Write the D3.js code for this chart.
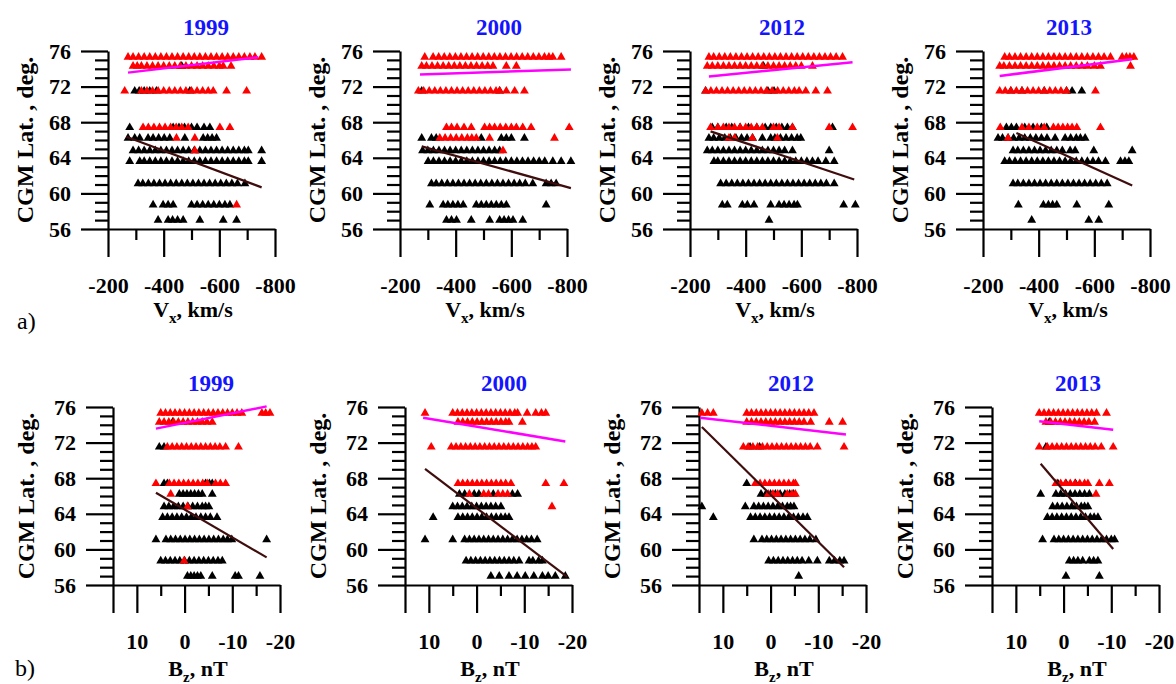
<!DOCTYPE html>
<html>
<head>
<meta charset="utf-8">
<script src="https://cdn.jsdelivr.net/npm/d3@7"></script>
<style>
  body { margin: 0; background: #fff; }
  svg text { font-family: 'Liberation Serif', 'Times New Roman', Times, serif; }
</style>
</head>
<body>
<svg id="chart"></svg>
<script>
// station latitudes (rows of triangles)
const lats = [75.3, 74.3, 71.5, 67.4, 66.2, 64.8, 63.6, 61.1, 58.7, 57.0];
const years = ['1999', '2000', '2012', '2013'];
const latTicks = [76, 72, 68, 64, 60, 56];
const vxTicks = [-200, -400, -600, -800];
const vxMinor = [-300, -500, -700];
const bzTicks = [15, 10, 0, -10, -20];
const bzMinor = [5, -5, -15];

// ---- Vx panels: one array per latitude row ----
const vxRed1999 = [
  [-272,-290,-310,-330,-350,-370,-390,-410,-430,-450,-470,-490,-510,-530,-550,-570,-590,-610,-630,-650,-670,-690,-710,-728,-752],
  [-290,-305,-320,-340,-360,-380,-400,-420,-440,-460,-480,-500,-520,-540,-560,-580,-600,-614,-642],
  [-260,-320,-340,-360,-380,-400,-420,-440,-460,-480,-500,-520,-540,-560,-578,-626,-698],
  [-326,-345,-365,-385,-405,-425,-445,-465,-488,-602,-638],
  [-446,-512], [-512], [], [], [-662], []
];
const vxBlack1999 = [
  [], [-465],
  [-296,-312,-330,-350,-374,-494],
  [-278,-434,-455,-475,-500,-520,-545,-566],
  [-272,-296,-314,-344,-362,-382,-402,-422,-476,-542,-558,-574,-590],
  [-290,-310,-330,-350,-370,-390,-410,-430,-450,-470,-490,-510,-530,-550,-570,-590,-610,-630,-650,-670,-690,-704,-752],
  [-278,-314,-330,-350,-370,-390,-410,-430,-450,-470,-490,-510,-530,-550,-570,-590,-610,-630,-650,-670,-690,-704,-752],
  [-308,-325,-345,-365,-385,-405,-425,-445,-465,-485,-505,-525,-545,-565,-585,-605,-625,-645,-665,-692],
  [-362,-398,-416,-434,-500,-520,-540,-560,-580,-600,-620,-638],
  [-380,-416,-432,-450,-470,-530,-614,-662]
];
const vxMagenta1999 = [[-272, 73.57], [-740, 75.29]];
const vxBrown1999 = [[-266, 66.37], [-752, 60.68]];

const vxRed2000 = [
  [-289,-319,-339,-359,-379,-399,-419,-439,-459,-479,-499,-519,-539,-559,-579,-599,-619,-639,-659,-679,-699,-719,-735,-749,-779],
  [-278,-295,-315,-335,-355,-375,-395,-415,-435,-455,-475,-495,-515,-534,-582,-618],
  [-266,-285,-305,-325,-345,-365,-385,-405,-425,-445,-465,-485,-505,-525,-545,-558,-582,-612,-647],
  [-367,-385,-405,-430,-456,-504,-522,-540,-560,-580,-600,-618,-641,-671,-808],
  [-343,-362,-382,-402,-422,-442,-458,-474,-522,-755],
  [-570], [], [], [], []
];
const vxBlack2000 = [
  [], [], [-278,-558], [],
  [-278,-313,-330,-492,-564,-582,-600,-647],
  [-281,-300,-320,-340,-360,-380,-400,-420,-440,-460,-480,-500,-520,-540,-558],
  [-301,-320,-340,-360,-380,-400,-420,-440,-460,-480,-500,-520,-540,-560,-580,-600,-620,-640,-660,-680,-700,-720,-749,-779,-814],
  [-313,-330,-350,-370,-390,-410,-430,-450,-470,-490,-510,-530,-550,-570,-590,-610,-630,-650,-677,-725,-743,-761],
  [-307,-355,-372,-390,-408,-427,-474,-492,-510,-528,-546,-564,-582,-725],
  [-367,-385,-403,-456,-522,-558,-574,-590,-606,-641]
];
const vxMagenta2000 = [[-272, 73.37], [-814, 73.93]];
const vxBrown2000 = [[-278, 65.29], [-814, 60.59]];

const vxRed2012 = [
  [-268,-285,-305,-325,-345,-365,-385,-405,-425,-445,-465,-485,-505,-525,-545,-565,-585,-605,-625,-645,-665,-685,-705,-725,-748],
  [-262,-280,-300,-320,-340,-360,-380,-400,-420,-440,-460,-480,-500,-520,-540,-560,-580,-600,-640],
  [-256,-275,-295,-315,-335,-355,-375,-395,-415,-435,-455,-475,-495,-515,-535,-555,-575,-592,-616,-652,-694],
  [-274,-300,-320,-340,-360,-380,-400,-420,-440,-460,-500,-520,-568,-700,-784],
  [-340,-360,-424,-514],
  [], [], [], [], []
];
const vxBlack2012 = [
  [], [-464], [-256,-480,-502],
  [-280,-300,-330,-350,-380,-410,-440,-470,-490,-510,-530,-550,-568,-712],
  [-268,-285,-305,-325,-345,-365,-385,-405,-425,-460,-490,-505,-525,-545,-565,-585,-598],
  [-262,-280,-300,-320,-340,-360,-380,-400,-420,-440,-460,-480,-500,-520,-540,-568,-700],
  [-286,-300,-320,-340,-360,-380,-400,-420,-440,-460,-480,-500,-520,-540,-560,-580,-600,-620,-640,-660,-688,-718],
  [-310,-330,-350,-370,-390,-410,-430,-450,-470,-490,-510,-530,-550,-570,-590,-610,-630,-650,-670,-690,-718],
  [-316,-334,-388,-406,-430,-490,-520,-538,-556,-574,-586,-752,-794],
  [-484]
];
const vxMagenta2012 = [[-268, 73.13], [-784, 74.73]];
const vxBrown2012 = [[-274, 66.97], [-790, 61.56]];

const vxRed2013 = [
  [-278,-295,-315,-335,-355,-375,-395,-415,-435,-455,-475,-495,-515,-535,-555,-575,-595,-615,-635,-658,-700,-715,-728,-742],
  [-260,-275,-295,-315,-335,-355,-375,-395,-415,-435,-455,-475,-495,-515,-535,-555,-575,-600,-622,-730],
  [-260,-280,-300,-320,-340,-360,-380,-400,-420,-440,-460,-480,-500,-604],
  [-262,-340,-365,-395,-420,-453,-470,-487,-504,-520,-537,-622],
  [-290],
  [], [], [], [], []
];
const vxBlack2013 = [
  [], [], [-300,-340,-420,-500,-520,-555],
  [-284,-302,-320,-350,-380,-410,-429],
  [-254,-270,-290,-310,-330,-350,-370,-390,-410,-430,-459,-495,-515,-535,-550,-567],
  [-308,-325,-345,-365,-385,-405,-425,-445,-465,-485,-513,-531,-598,-736],
  [-278,-295,-315,-335,-355,-375,-395,-415,-435,-455,-475,-495,-515,-535,-555,-575,-595,-615,-640,-694,-710,-724],
  [-308,-325,-345,-365,-385,-405,-425,-445,-465,-485,-505,-525,-545,-565,-585,-605,-625,-646],
  [-327,-417,-435,-450,-465,-537,-652],
  [-375,-580,-616]
];
const vxMagenta2013 = [[-260, 73.2], [-736, 75.07]];
const vxBrown2013 = [[-320, 66.78], [-736, 60.9]];

// ---- Bz panels ----
const bzRed1999 = [
  [5,4,3,2,1,0,-1,-2,-3,-4,-5,-6,-7,-8,-9,-10,-11,-12,-16.2,-17,-17.9],
  [5.3,4.3,3.3,2.3,1.3,0.3,-0.7,-1.7,-2.7,-3.7,-4.7,-5.8],
  [3.6,2.6,1.6,0.6,-0.4,-1.4,-2.4,-3.4,-4.4,-5.4,-6.4,-7.4,-8.6,-11.3],
  [6.0,3.2,2.2,1.2,0.2,-0.8,-1.8,-2.8,-3.8,-4.75,-6.5,-7.5,-8.6],
  [2.9], [-0.6], [], [], [0.1], []
];
const bzBlack1999 = [
  [], [2.5], [5.3,4.3],
  [4.3,3.6,-4.4,-5.2,-5.8],
  [1.1,0.3,-0.5,-1.3,-2.1,-2.9,-3.7,-5.8],
  [4.3,3.3,2.3,1.3,0.3,-0.7,-1.7,-2.7,-3.7,-4.4,-5.1],
  [4.6,3.6,2.6,1.6,0.6,-0.4,-1.4,-2.4,-3.4,-4.4,-5.4,-6.8],
  [6.0,3.9,2.9,1.9,0.9,-0.1,-1.1,-2.1,-3.1,-4.1,-5.1,-6.1,-7.1,-8.1,-9.0,-9.9,-17.2],
  [5,4,3,2,1,0,-1,-2,-3,-4,-5,-6,-7,-7.9],
  [-0.6,-1.3,-2,-2.7,-3.4,-5.8,-10.6,-11.3,-15.8]
];
const bzMagenta1999 = [[6.0, 73.57], [-17.2, 76.07]];
const bzBrown1999 = [[6.0, 66.36], [-17.2, 59.1]];

const bzRed2000 = [
  [10.8,5,4,3,2,1,0,-1,-2,-3,-4,-5,-6,-7,-8,-8.6,-10.6,-12.4,-13.6,-14.5],
  [3.9,2.9,1.9,0.9,-0.1,-1.1,-2.1,-3.1,-4.1,-5.1,-6.1,-6.8,-9.6],
  [9.5,5.3,4.3,3.3,2.3,1.3,0.3,-0.7,-1.7,-2.7,-3.7,-4.7,-5.7,-6.7,-7.7,-8.7,-9.7,-10.7,-11.6,-12.4],
  [3.9,2.9,1.9,0.9,-0.1,-1.1,-2.1,-3.1,-4.1,-5.1,-6.1,-7.2,-14.5,-18.3],
  [1.5,-1.5,-2.5,-4.5,-5.5,-6.5],
  [-15.8], [], [], [], []
];
const bzBlack2000 = [
  [], [], [], [],
  [3.6,2.5,0.5,-0.5,-3.5,-7.5,-8.6],
  [5,4,3,2,1,0,-1,-2,-3,-4,-5.1],
  [9.1,3.9,2.9,1.9,0.9,-0.1,-1.1,-2.1,-3.1,-4.1,-5.1,-6.0,-6.8],
  [10.8,5,2.5,1.5,0.5,-0.5,-1.5,-2.5,-3.5,-4.5,-5.5,-6.5,-7.5,-8.5,-9.5,-10.5,-11.5,-12.7],
  [2.2,1.2,0.2,-0.8,-1.8,-2.8,-3.8,-4.8,-5.8,-6.8,-7.8,-8.9,-11,-11.8,-13,-13.8],
  [-3,-4.75,-6.8,-8.5,-10.2,-12,-13.8,-15,-16.5,-18.6]
];
const bzMagenta2000 = [[11.2, 74.8], [-18.6, 72.13]];
const bzBrown2000 = [[10.8, 69.05], [-19, 56.9]];

const bzRed2012 = [
  [14.4,13.2,12,5,4,3,2,1,0,-1,-2,-3,-4,-5,-6,-7,-8,-9.1],
  [5,4,3,2,1,0,-1,-2,-3,-4,-5,-6,-7,-8.4,-12.3,-15.1],
  [5.7,4.7,3.7,2.7,1.7,0.7,-0.3,-1.3,-2.3,-3.3,-4.3,-5.3,-6.3,-7.3,-8.3,-9.8,-15.4],
  [3.2,2.2,1.2,0.2,-0.8,-1.8,-2.8,-3.8,-4.8,-5.2],
  [0.5,-0.5,-1.5,-3.5,-4.5,-5.2],
  [], [], [], [], []
];
const bzBlack2012 = [
  [], [], [4.3,2.3], [5],
  [2,1,0,-1,-2,-3,-4,-4.8],
  [14.4,5.3,3.5,2.5,1.5,0.5,-0.5,-1.5,-2.5,-3.5,-4.2,-4.9],
  [12,4.2,3.2,2.2,1.2,0.2,-0.8,-1.8,-2.8,-3.8,-4.8,-5.8,-6.8,-7.7],
  [3.5,1.8,0.8,-0.2,-1.2,-2.2,-3.2,-4.2,-5.2,-6.2,-7.2,-8.2,-9.5],
  [0.4,-0.6,-1.6,-2.6,-3.6,-4.6,-5.6,-6.6,-8,-9.8,-12.3,-13.4,-14.5,-15.4],
  [-5.9]
];
const bzMagenta2012 = [[14.8, 74.8], [-15.8, 72.92]];
const bzBrown2012 = [[14.4, 73.75], [-15.4, 58.0]];

const bzRed2013 = [
  [5.1,4.1,3.1,2.1,1.1,0.1,-0.9,-1.9,-2.9,-3.9,-4.9,-5.9,-6.9,-9.0],
  [3.7,2.7,1.7,0.7,-0.3,-1.3,-2.3,-3.3,-4.3,-5.3,-6.5],
  [5.1,3.4,2.4,1.4,0.4,-0.6,-1.6,-2.6,-3.6,-4.6,-5.6,-6.6,-7.9,-10.4],
  [1.6,0.6,-0.4,-1.4,-2.4,-3.4,-4.4,-5.1,-7.5,-9.6],
  [-6.8],
  [], [], [], [], []
];
const bzBlack2013 = [
  [], [3], [3.7], [1.2,-0.5,-2.5],
  [4.8,1.6,0.6,-0.4,-1.4,-2.4,-3.4,-4.4,-5.4],
  [2.3,1.3,0.3,-0.7,-1.7,-2.7,-3.7,-4.4,-5.1],
  [3.4,2.4,1.4,0.4,-0.6,-1.6,-2.6,-3.6,-4.6,-5.6,-6.4,-7.2],
  [4.4,2,1,0,-1,-2,-3,-4,-5,-6,-7,-8,-9,-10,-10.7],
  [-1.2,-2.1,-3,-4,-5.4,-6.3,-7.2],
  [-0.5,-7.5]
];
const bzMagenta2013 = [[5.1, 74.39], [-10.4, 73.45]];
const bzBrown2013 = [[4.8, 69.62], [-10.4, 60.05]];

// ---- layout ----
const topX = [108, 400, 690, 983];
const botX = [113, 405, 699, 992];
const titleDx = [98, 99, 92, 86];
const panelW = 167, panelH = 178;

const panels = [
  {row: 0, col: 0, red: vxRed1999, black: vxBlack1999, mag: vxMagenta1999, brown: vxBrown1999},
  {row: 0, col: 1, red: vxRed2000, black: vxBlack2000, mag: vxMagenta2000, brown: vxBrown2000},
  {row: 0, col: 2, red: vxRed2012, black: vxBlack2012, mag: vxMagenta2012, brown: vxBrown2012},
  {row: 0, col: 3, red: vxRed2013, black: vxBlack2013, mag: vxMagenta2013, brown: vxBrown2013},
  {row: 1, col: 0, red: bzRed1999, black: bzBlack1999, mag: bzMagenta1999, brown: bzBrown1999},
  {row: 1, col: 1, red: bzRed2000, black: bzBlack2000, mag: bzMagenta2000, brown: bzBrown2000},
  {row: 1, col: 2, red: bzRed2012, black: bzBlack2012, mag: bzMagenta2012, brown: bzBrown2012},
  {row: 1, col: 3, red: bzRed2013, black: bzBlack2013, mag: bzMagenta2013, brown: bzBrown2013}
];

const serif = "'Liberation Serif', 'Times New Roman', Times, serif";
const svg = d3.select('#chart').attr('width', 1176).attr('height', 684);

const tri = d3.symbol().type(d3.symbolTriangle).size(34);

function toPoints(rows) {
  let pts = [];
  rows.forEach((vals, i) => vals.forEach(v => pts.push([v, lats[i]])));
  return pts;
}

panels.forEach(p => {
  const x0 = p.row === 0 ? topX[p.col] : botX[p.col];
  const y0 = p.row === 0 ? 51 : 407;
  const g = svg.append('g').attr('transform', `translate(${x0},${y0})`);

  const xScale = d3.scaleLinear()
    .domain(p.row === 0 ? [-200, -800] : [15, -20])
    .range([0, panelW]);
  const yScale = d3.scaleLinear().domain([56, 76]).range([panelH, 0]);

  // minor y ticks
  const yMinor = d3.range(57, 76).filter(d => d % 4 !== 0);
  g.append('g').call(d3.axisLeft(yScale).tickValues(yMinor).tickSize(13).tickFormat('').tickSizeOuter(0))
    .call(a => a.select('.domain').remove());

  // major y ticks + labels
  g.append('g')
    .call(d3.axisLeft(yScale).tickValues(latTicks).tickSize(27).tickPadding(10).tickSizeOuter(0));

  // x axis
  const majors = p.row === 0 ? vxTicks : bzTicks;
  const minors = p.row === 0 ? vxMinor : bzMinor;
  g.append('g').attr('transform', `translate(0,${panelH})`)
    .call(d3.axisBottom(xScale).tickValues(minors).tickSize(11).tickFormat('').tickSizeOuter(0))
    .call(a => a.select('.domain').remove());
  g.append('g').attr('transform', `translate(0,${panelH})`)
    .call(d3.axisBottom(xScale).tickValues(majors).tickSize(28).tickPadding(20).tickSizeOuter(0)
      .tickFormat(d => d === 15 ? '' : d));

  g.selectAll('.domain, .tick line')
    .attr('stroke', '#000').attr('stroke-width', 2.2);
  g.selectAll('.tick text')
    .attr('fill', '#000')
    .attr('font-family', serif)
    .style('font-family', serif)
    .style('font-weight', 'bold')
    .style('font-size', '22px');

  // y axis title
  g.append('text')
    .attr('transform', `translate(${p.row === 0 ? -75 : -79},${panelH / 2}) rotate(-90)`)
    .attr('text-anchor', 'middle')
    .style('font-family', serif)
    .style('font-weight', 'bold').style('font-size', '24px')
    .text('CGM Lat. , deg.');

  // panel title
  g.append('text')
    .attr('x', titleDx[p.col]).attr('y', -16)
    .attr('text-anchor', 'middle')
    .attr('fill', '#1414ff')
    .style('font-family', serif)
    .style('font-weight', 'bold').style('font-size', '23px')
    .text(years[p.col]);

  // x axis title
  const xt = g.append('text')
    .attr('x', 85).attr('y', panelH + (p.row === 0 ? 88 : 91))
    .attr('text-anchor', 'middle')
    .style('font-family', serif)
    .style('font-weight', 'bold').style('font-size', '22px');
  xt.append('tspan').text(p.row === 0 ? 'V' : 'B');
  xt.append('tspan').attr('dy', 6).style('font-size', '15px').text(p.row === 0 ? 'x' : 'z');
  xt.append('tspan').attr('dy', -6).text(p.row === 0 ? ', km/s' : ', nT');

  // triangles
  g.selectAll('.blk').data(toPoints(p.black)).join('path')
    .attr('class', 'blk')
    .attr('d', tri)
    .attr('transform', d => `translate(${xScale(d[0])},${yScale(d[1])})`)
    .attr('fill', '#000');
  g.selectAll('.red').data(toPoints(p.red)).join('path')
    .attr('class', 'red')
    .attr('d', tri)
    .attr('transform', d => `translate(${xScale(d[0])},${yScale(d[1])})`)
    .attr('fill', '#ff0000');

  // fitted lines
  const line = d3.line().x(d => xScale(d[0])).y(d => yScale(d[1]));
  g.append('path').datum(p.mag).attr('d', line)
    .attr('stroke', '#ff00ff').attr('stroke-width', 2.5).attr('fill', 'none');
  g.append('path').datum(p.brown).attr('d', line)
    .attr('stroke', '#3f0d0d').attr('stroke-width', 2.2).attr('fill', 'none');
});

svg.append('text').attr('x', 17).attr('y', 329)
  .style('font-family', serif)
  .style('font-size', '24px').text('a)');
svg.append('text').attr('x', 15).attr('y', 676)
  .style('font-family', serif)
  .style('font-size', '24px').text('b)');
</script>
</body>
</html>
